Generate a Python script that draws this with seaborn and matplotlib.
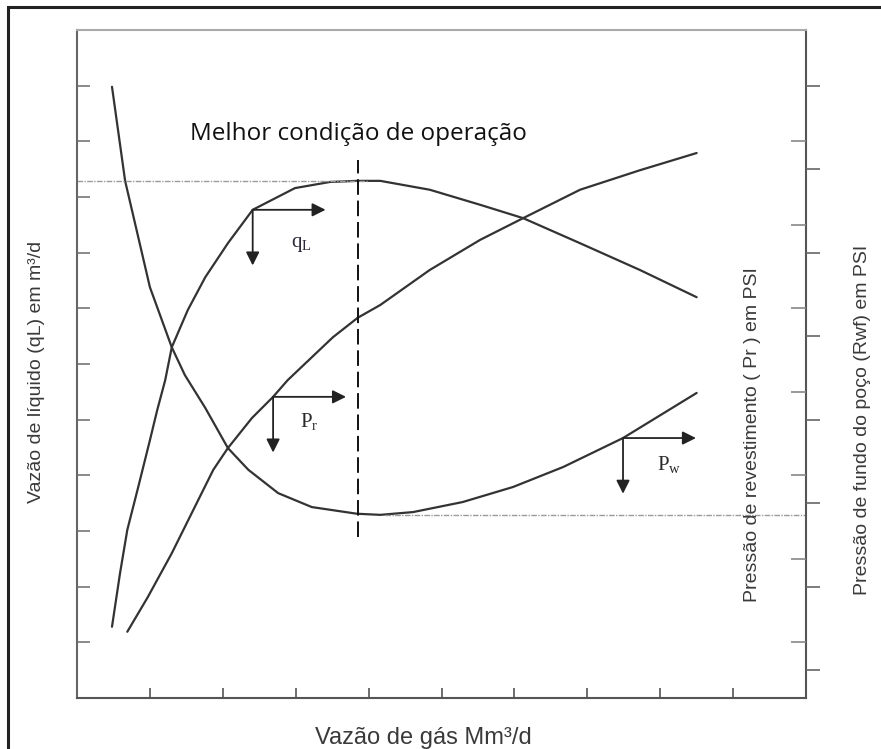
import numpy as np
import pandas as pd
import matplotlib
matplotlib.use("Agg")
import matplotlib.pyplot as plt
import seaborn as sns
from matplotlib.patches import Rectangle

# ---------------- data ----------------
# liquid flow curve q_L (left axis, arbitrary units)
gas_ql = [0.48, 0.59, 0.69, 0.84, 1.00, 1.10, 1.21, 1.30, 1.52, 1.76, 2.07, 2.41,
          2.99, 3.47, 3.85, 4.16, 4.84, 5.53, 6.12, 6.90, 7.72, 8.50]
liq_ql = [1.28, 2.24, 3.02, 3.79, 4.63, 5.17, 5.71, 6.30, 6.97, 7.56, 8.17, 8.77,
          9.16, 9.27, 9.29, 9.29, 9.13, 8.86, 8.62, 8.17, 7.69, 7.20]

# bottom-hole pressure curve P_w
gas_pw = [0.48, 0.66, 0.84, 1.00, 1.30, 1.48, 1.76, 2.07, 2.35, 2.76, 3.22, 3.84,
          4.16, 4.61, 5.29, 5.98, 6.67, 7.49, 8.50]
pres_pw = [10.98, 9.29, 8.28, 7.38, 6.30, 5.80, 5.21, 4.49, 4.10, 3.68, 3.43, 3.31,
           3.29, 3.34, 3.52, 3.79, 4.15, 4.67, 5.48]

# casing pressure curve P_r
gas_pr = [0.69, 0.97, 1.30, 1.71, 1.87, 2.07, 2.40, 2.69, 2.89, 3.51, 3.85, 4.16,
          4.84, 5.53, 6.12, 6.90, 7.72, 8.50]
pres_pr = [1.19, 1.81, 2.60, 3.68, 4.10, 4.49, 5.03, 5.41, 5.71, 6.48, 6.83, 7.06,
           7.69, 8.23, 8.62, 9.13, 9.48, 9.79]

# best operating point and reference levels
best_gas = 3.85
ql_max = 9.28
pw_min = 3.29

# tick positions
x_ticks = [1, 2, 3, 4, 5, 6, 7, 8, 9]
y_ticks = [1, 2, 3, 4, 5, 6, 7, 8, 9, 10, 11]
pr_ticks = [0.5, 2, 3.5, 5, 6.5, 8, 9.5, 11]
pw_ticks = [1, 2.5, 4, 5.5, 7, 8.5, 10]

# texts
title_txt = "Melhor condição de operação"
xlabel_txt = "Vazão de gás Mm³/d"
ylabel_txt = "Vazão de líquido (qL) em m³/d"
pr_label_txt = "Pressão de revestimento ( Pr ) em PSI"
pw_label_txt = "Pressão de fundo do poço (Rwf) em PSI"

# arrow corners: index into the curves
arrow_idx = {"ql": 11, "pr": 7, "pw": 17}

# ---------------- style ----------------
sns.set_theme(style="white")
plt.rcParams["font.family"] = ["Liberation Sans", "DejaVu Sans"]
plt.rcParams["mathtext.fontset"] = "custom"
plt.rcParams["mathtext.rm"] = "Liberation Serif"
plt.rcParams["mathtext.it"] = "Liberation Serif:italic"

line_c = "#333333"
W, H = 881, 749
fig = plt.figure(figsize=(W / 100, H / 100), dpi=100)
fig.patch.set_facecolor("white")
ax = fig.add_axes([77 / W, 51 / H, 729 / W, 668 / H])
ax.set_xlim(0, 10)
ax.set_ylim(0, 12)

df_ql = pd.DataFrame({"gas": gas_ql, "val": liq_ql})
df_pw = pd.DataFrame({"gas": gas_pw, "val": pres_pw})
df_pr = pd.DataFrame({"gas": gas_pr, "val": pres_pr})
for d in (df_ql, df_pw, df_pr):
    sns.lineplot(data=d, x="gas", y="val", ax=ax, color=line_c, lw=1.6,
                 sort=False, estimator=None)
for ln in ax.lines:
    ln.set_solid_joinstyle("round")

# reference lines
ax.plot([0, 3.99], [ql_max, ql_max], color="#9a9a9a", lw=1.0, ls=(0, (4, 1, 1, 1)))
ax.plot([4.22, 10], [pw_min, pw_min], color="#9a9a9a", lw=1.0, ls=(0, (4, 1, 1, 1)))
ax.plot([best_gas, best_gas], [2.89, 9.66], color="#111111", lw=1.4, ls=(0, (8, 3)))

# arrows
def corner_arrows(xs, ys, i):
    cx, cy = xs[i], ys[i]
    ap = dict(arrowstyle="-|>", color="#222222", lw=1.3, mutation_scale=20,
              shrinkA=0, shrinkB=0)
    ax.annotate("", xy=(cx + 1.0, cy), xytext=(cx, cy), arrowprops=ap)
    ax.annotate("", xy=(cx, cy - 1.0), xytext=(cx, cy), arrowprops=ap)
    return cx, cy

cx, cy = corner_arrows(gas_ql, liq_ql, arrow_idx["ql"])
ax.text(cx + 0.66, cy - 0.63, r"$\mathrm{q_L}$", fontsize=15, ha="center", va="center", color="#2a2a3a")
cx, cy = corner_arrows(gas_pr, pres_pr, arrow_idx["pr"])
ax.text(cx + 0.49, cy - 0.45, r"$\mathrm{P_r}$", fontsize=15, ha="center", va="center", color="#2a2a2a")
cx, cy = corner_arrows(gas_pw, pres_pw, arrow_idx["pw"])
ax.text(cx + 0.63, cy - 0.48, r"$\mathrm{P_w}$", fontsize=15, ha="center", va="center", color="#2a2a2a")

ax.text(1.55, 10.02, title_txt, fontsize=17.5, family=["Open Sans", "DejaVu Sans"],
        va="baseline", ha="left", color="#111111")

# spines and ticks
for side, c in {"left": "#666666", "bottom": "#555555", "right": "#555555", "top": "#aaaaaa"}.items():
    ax.spines[side].set_visible(True)
    ax.spines[side].set_color(c)
    ax.spines[side].set_linewidth(1.5)
ax.set_xticks(x_ticks)
ax.set_yticks(y_ticks)
ax.tick_params(axis="y", direction="in", length=9.5, width=1.2, color="#777777",
               left=True, right=False, labelleft=False)
ax.tick_params(axis="x", direction="in", length=7.5, width=1.2, color="#555555",
               bottom=True, top=False, labelbottom=False)

ax2 = ax.twinx()
ax2.set_ylim(0, 12)
ax2.set_yticks(pr_ticks)
ax2.tick_params(axis="y", direction="out", length=10, width=1.2, color="#666666",
                right=True, left=False, labelright=False)
ax3 = ax.twinx()
ax3.set_ylim(0, 12)
ax3.set_yticks(pw_ticks)
ax3.tick_params(axis="y", direction="in", length=11, width=1.2, color="#888888",
                right=True, left=False, labelright=False)
for a in (ax2, ax3):
    for s in a.spines.values():
        s.set_visible(False)

lab_c = "#3a3a3a"
ax.set_xlabel(xlabel_txt, fontsize=17, color=lab_c, va="center", ha="center")
ax.xaxis.set_label_coords(0.475, -0.06)
ax.set_ylabel(ylabel_txt, fontsize=14, color=lab_c, va="center", ha="center")
ax.yaxis.set_label_coords(-0.055, 0.488)
ax2.set_ylabel(pr_label_txt, fontsize=14, color=lab_c, va="center", ha="center")
ax2.yaxis.set_label_coords(0.926, 0.394)
ax3.set_ylabel(pw_label_txt, fontsize=14, color=lab_c, va="center", ha="center")
ax3.yaxis.set_label_coords(1.077, 0.416)

# outer frame of the picture
fig.add_artist(Rectangle((8 / W, -0.1), 1.2, (H - 7) / H + 0.1, transform=fig.transFigure,
                         fill=False, lw=2.2, ec="#222222"))

fig.savefig("out.png", dpi=100)
